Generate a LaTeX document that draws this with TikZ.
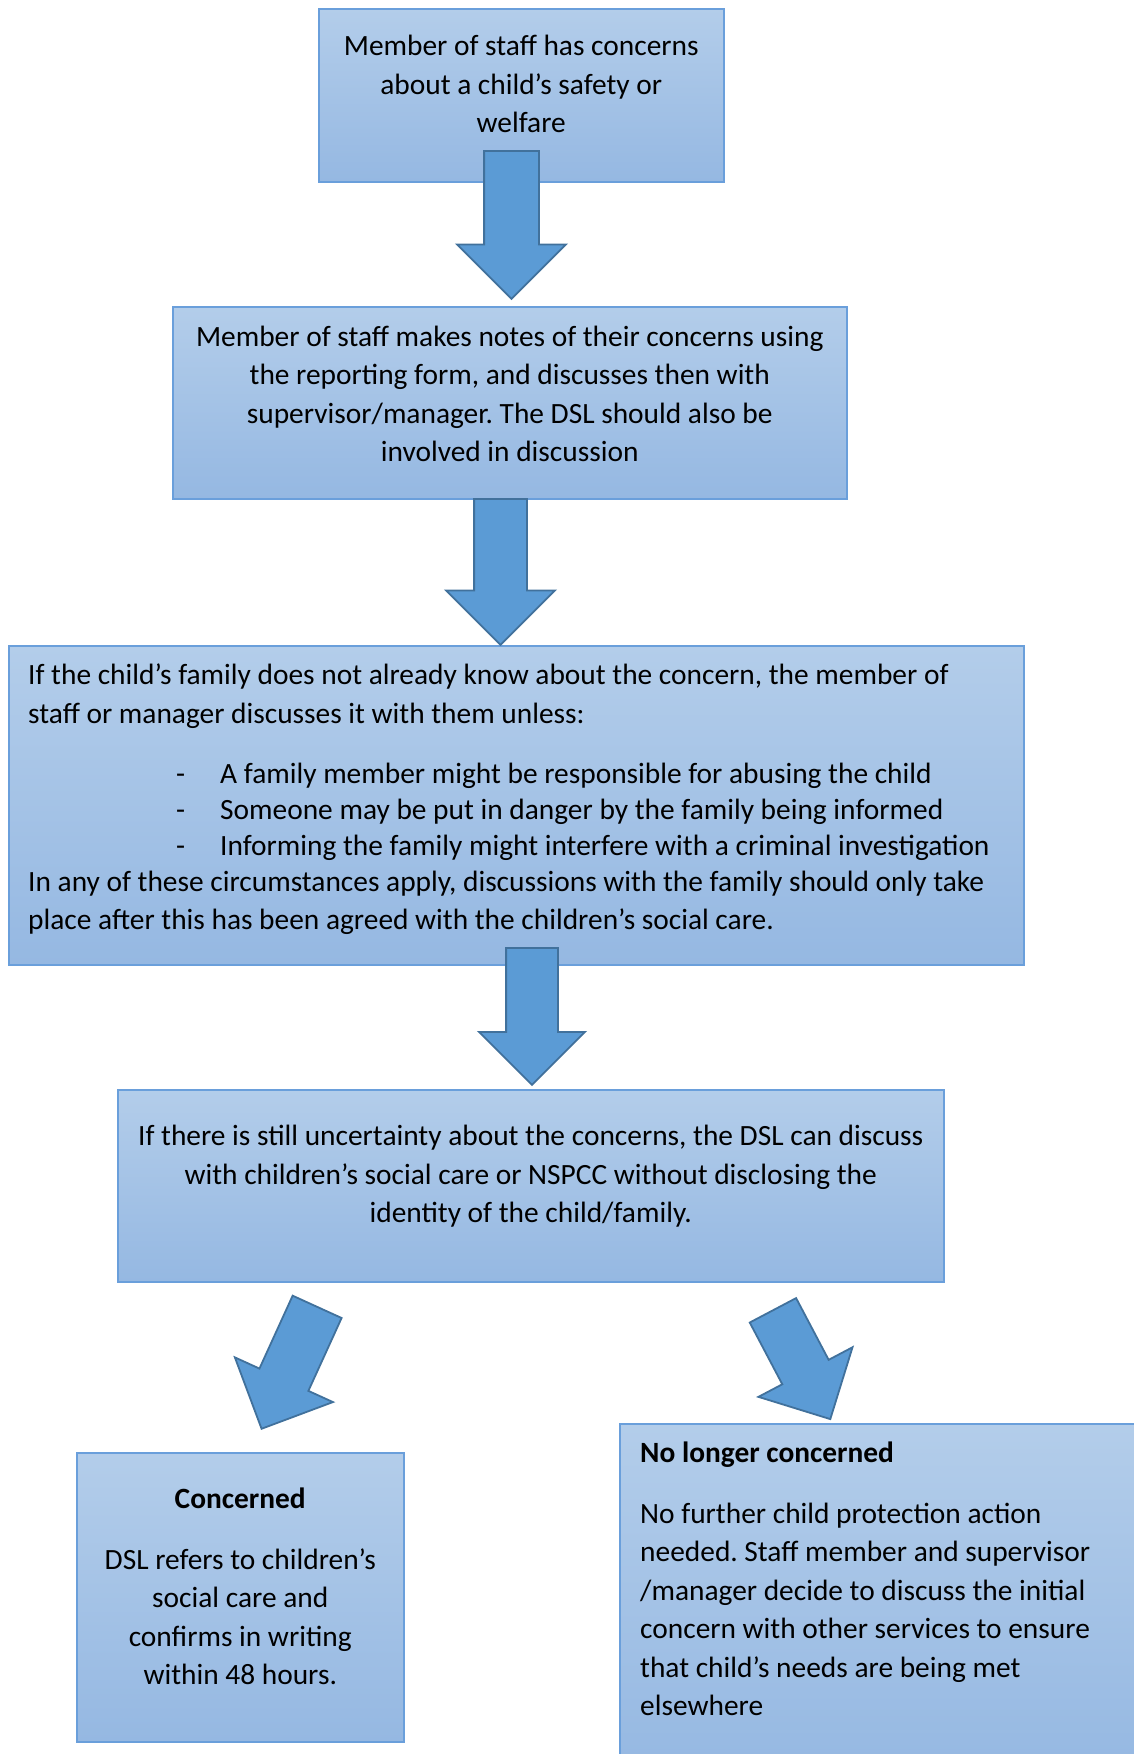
\documentclass[tikz,border=0pt]{standalone}
\usepackage{fontspec}
\setmainfont{Carlito}
\usetikzlibrary{shapes.arrows,positioning}

\definecolor{boxtop}{HTML}{B3CDEA}
\definecolor{boxbottom}{HTML}{95B8E2}
\definecolor{boxline}{HTML}{6A9FDB}
\definecolor{arrowfill}{HTML}{5B9BD5}
\definecolor{arrowline}{HTML}{41719C}

\begin{document}
\frenchspacing
\begin{tikzpicture}[x=1pt,y=-1pt,
    box/.style={draw=boxline,line width=1.5pt,top color=boxtop,bottom color=boxbottom,anchor=north west,inner sep=0pt},
    txt/.style={font=\fontsize{29.4}{38.5}\selectfont,inner sep=0pt},
    blockarrow/.style={single arrow,draw=arrowline,fill=arrowfill,line width=1.8pt,inner xsep=0pt,anchor=tail,single arrow head extend=27pt}]
    \useasboundingbox (0,0) rectangle (1133,1754);

    % boxes
    \node[box,minimum width=405pt,minimum height=173pt]  (staff)     at (318,8)    {};
    \node[box,minimum width=674pt,minimum height=192pt]  (notes)     at (172,306)  {};
    \node[box,minimum width=1015pt,minimum height=319pt] (family)    at (8,645)    {};
    \node[box,minimum width=826pt,minimum height=192pt]  (uncertain) at (117,1089) {};
    \node[box,minimum width=327pt,minimum height=289pt]  (concerned) at (76,1452)  {};
    \node[box,minimum width=530pt,minimum height=350pt]  (nolonger)  at (619,1423) {};

    % texts
    \node[txt,align=center,below=27pt of staff.north] (staffText)
        {Member of staff has concerns\\about a child’s safety or\\welfare};
    \node[txt,align=center,below=19.5pt of notes.north] (notesText)
        {Member of staff makes notes of their concerns using\\the reporting form, and discusses then with\\supervisor/manager. The DSL should also be\\involved in discussion};
    \node[txt,align=left,below right=19pt and 20pt of family.north west] (familyText)
        {If the child’s family does not already know about the concern, the member of\\
         staff or manager discusses it with them unless:\\[22pt]
         \hspace*{148pt}\makebox[44pt][l]{-}A family member might be responsible for abusing the child\\[-2.7pt]
         \hspace*{148pt}\makebox[44pt][l]{-}Someone may be put in danger by the family being informed\\[-2.7pt]
         \hspace*{148pt}\makebox[44pt][l]{-}Informing the family might interfere with a criminal investigation\\[-2.7pt]
         In any of these circumstances apply, discussions with the family should only take\\
         place after this has been agreed with the children’s social care.};
    \node[txt,align=center,below=36pt of uncertain.north] (uncertainText)
        {If there is still uncertainty about the concerns, the DSL can discuss\\with children’s social care or NSPCC without disclosing the\\identity of the child/family.};
    \node[txt,align=center,below=36pt of concerned.north] (concernedText)
        {\textbf{Concerned}\\[22pt]DSL refers to children’s\\social care and\\confirms in writing\\within 48 hours.};
    \node[txt,align=left,below right=19pt and 21pt of nolonger.north west] (nolongerText)
        {\textbf{No longer concerned}\\[22pt]No further child protection action\\needed. Staff member and supervisor\\/manager decide to discuss the initial\\concern with other services to ensure\\that child’s needs are being met\\elsewhere};

    % block arrows
    \node[blockarrow,rotate=-90,minimum height=148pt,inner ysep=26.5pt] (arrowA) at (511.5,150) {};
    \node[blockarrow,rotate=-90,minimum height=146pt,inner ysep=25.5pt,single arrow head extend=28pt] (arrowB) at (500.5,498) {};
    \node[blockarrow,rotate=-90,minimum height=137pt,inner ysep=25pt] (arrowC) at (532,947) {};
    \node[blockarrow,rotate=245.5,minimum height=134pt,inner ysep=26pt] (arrowD) at (317.5,1306) {};
    \node[blockarrow,rotate=-62.2,minimum height=123pt,inner ysep=25.3pt] (arrowE) at (772.5,1309.5) {};
\end{tikzpicture}
\end{document}
